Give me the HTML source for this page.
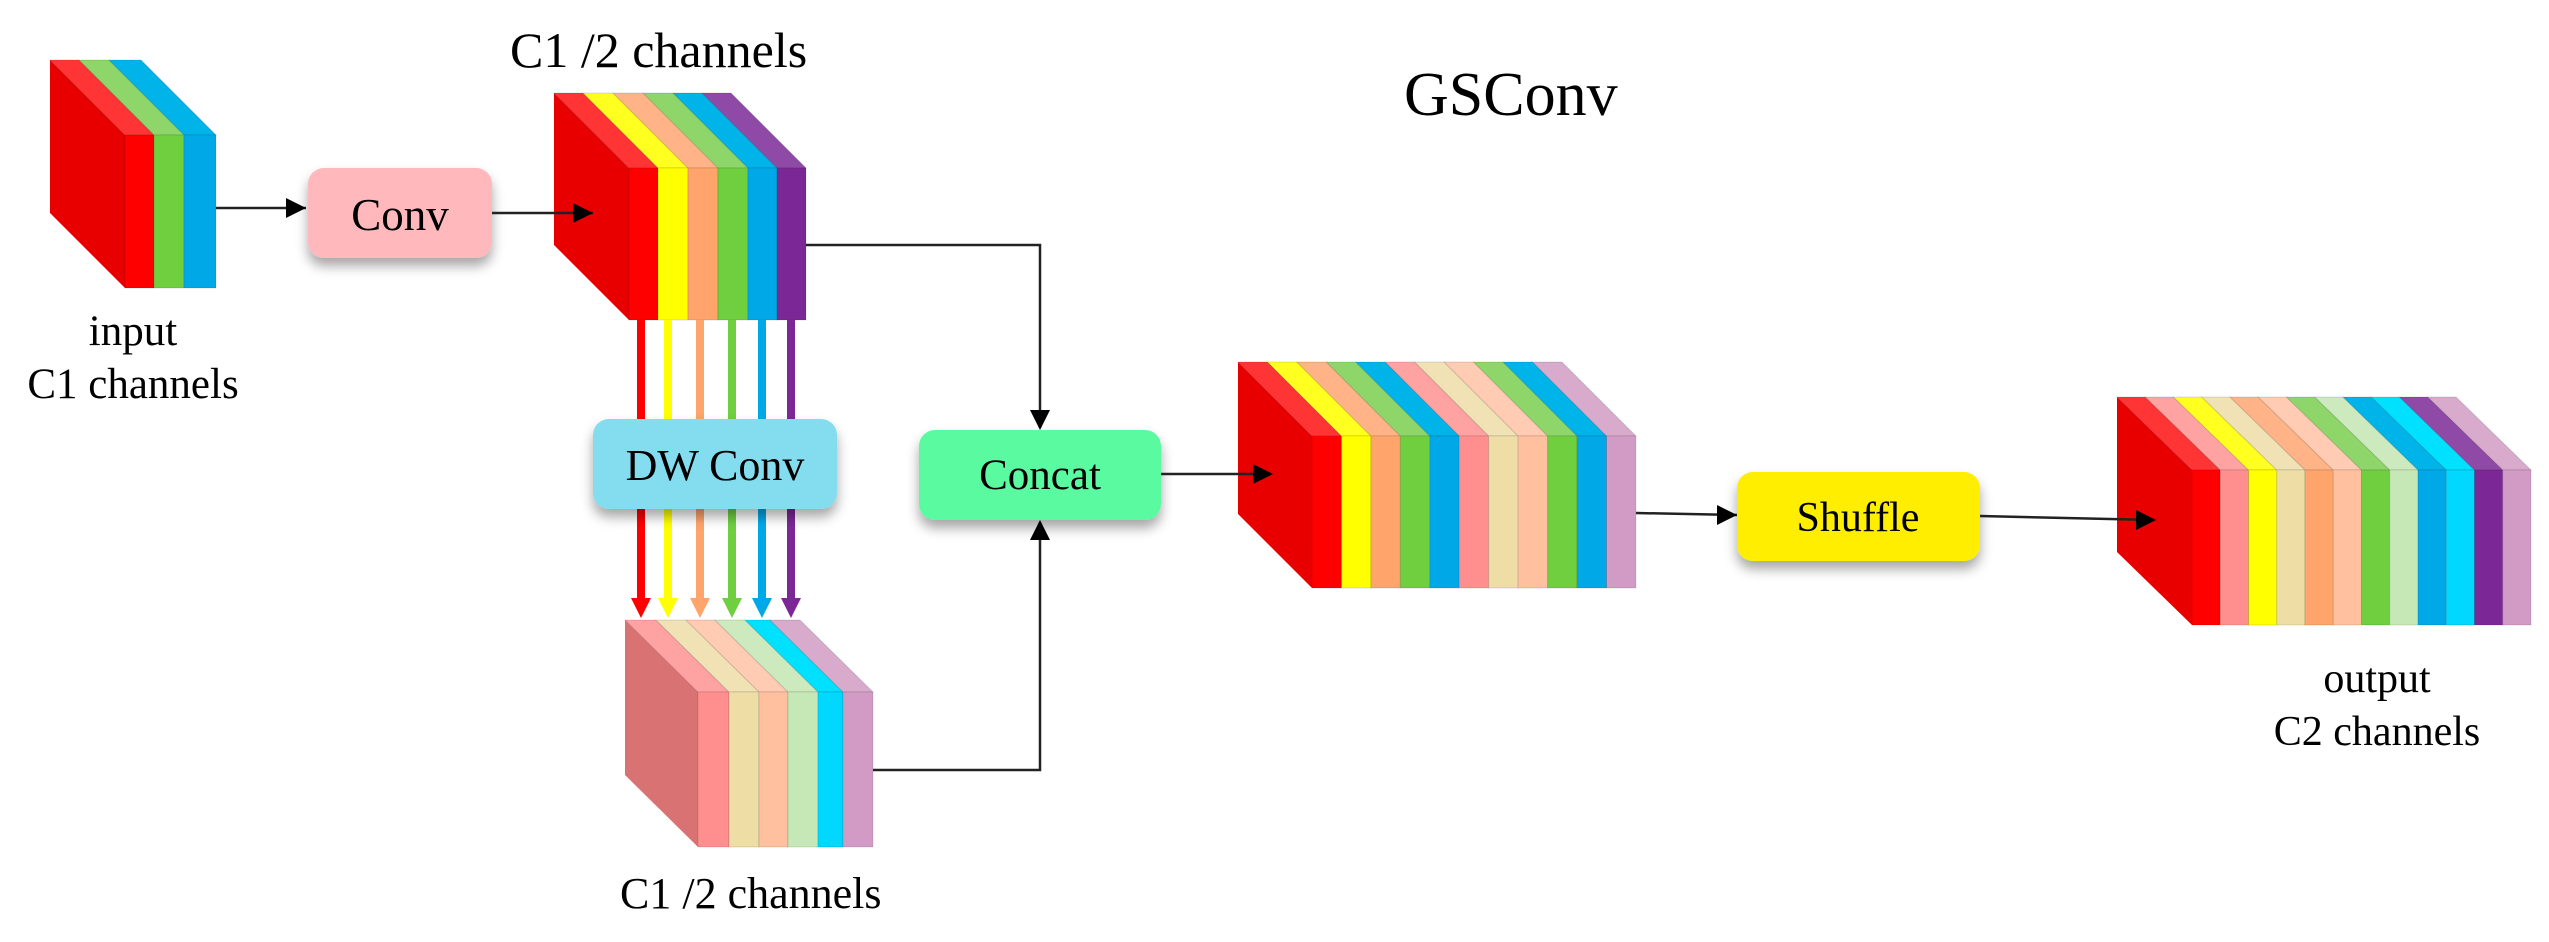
<!DOCTYPE html>
<html><head><meta charset="utf-8"><style>
html,body{margin:0;padding:0;background:#fff;}
svg{display:block;font-family:"Liberation Serif",serif;}
</style></head><body>
<svg id="s" width="2549" height="942" viewBox="0 0 2549 942" xmlns="http://www.w3.org/2000/svg">
<defs>
<filter id="sh" x="-20%" y="-20%" width="140%" height="160%"><feDropShadow dx="0" dy="8" stdDeviation="6" flood-color="#000" flood-opacity="0.35"/></filter>
<marker id="ah" markerWidth="10" markerHeight="10" refX="9" refY="5" orient="auto" markerUnits="userSpaceOnUse" viewBox="0 0 10 10"><path d="M0,0 L10,5 L0,10 z" fill="#000"/></marker>
</defs>
<g id="blocks"></g>
<g id="carrows"></g>
<!-- boxes -->
<rect x="308" y="168" width="184" height="90" rx="16" fill="#ffb8bc" filter="url(#sh)"/>
<rect x="593" y="419" width="244" height="90" rx="16" fill="#84dcef" filter="url(#sh)"/>
<rect x="919" y="430" width="242" height="90" rx="16" fill="#5afaa0" filter="url(#sh)"/>
<rect x="1737" y="472" width="243" height="89" rx="16" fill="#ffee00" filter="url(#sh)"/>
<g font-size="45" text-anchor="middle" fill="#000">
<text x="400" y="230">Conv</text>
<text x="715" y="480" font-size="44">DW Conv</text>
<text x="1040" y="489" font-size="43">Concat</text>
<text x="1858" y="531" font-size="42">Shuffle</text>
</g>
<!-- black connectors -->
<g stroke="#222" stroke-width="2.5" fill="none">
<line x1="216" y1="208" x2="306" y2="208"/>
<line x1="492" y1="213" x2="593" y2="213"/>
<polyline points="806,245 1040,245 1040,428"/>
<polyline points="873,770 1040,770 1040,522"/>
<line x1="1161" y1="474" x2="1271" y2="474"/>
<line x1="1636" y1="513" x2="1737" y2="515"/>
<line x1="1980" y1="516" x2="2154" y2="520"/>
</g>
<g fill="#000">
<path d="M306,208 l-20,-10 v20 z"/>
<path d="M593,213 l-20,-10 v20 z"/>
<path d="M1040,430 l-10,-20 h20 z"/>
<path d="M1040,520 l-10,20 h20 z"/>
<path d="M1273,474 l-20,-10 v20 z"/>
<path d="M1737,515 l-20,-10 v20 z"/>
<path d="M2156,520 l-20,-10 v20 z"/>
</g>
<!-- labels -->
<g fill="#000">
<text x="1404" y="115" font-size="62">GSConv</text>
<text x="510" y="67" font-size="50">C1 /2 channels</text>
<text x="133" y="345" font-size="43" text-anchor="middle">input</text>
<text x="133" y="398" font-size="43" text-anchor="middle">C1 channels</text>
<text x="620" y="908" font-size="44">C1 /2 channels</text>
<text x="2377" y="692" font-size="42" text-anchor="middle">output</text>
<text x="2377" y="745" font-size="42" text-anchor="middle">C2 channels</text>
</g>
</svg>
<script>
(function(){
var NS="http://www.w3.org/2000/svg";
var g=document.getElementById("blocks");
function el(t,a,p){var e=document.createElementNS(NS,t);for(var k in a)e.setAttribute(k,a[k]);(p||g).appendChild(e);return e;}
var C={
 red:["#ff0000","#ff3535"], yel:["#ffff00","#ffff20"], ora:["#ffa46a","#ffb386"],
 grn:["#6fcf3f","#8fd66a"], blu:["#00a8e8","#00b4ea"], pur:["#7b2896","#8e4aa6"],
 pnk:["#ff8f8f","#ffa2a2"], bei:["#eedda5","#f1e2b5"], pea:["#ffc0a0","#ffcbb2"],
 lgr:["#c6e8b6","#cdeabf"], cya:["#00d8ff","#00e0ff"], mau:["#d29bc5","#d8aacc"]
};
function block(xs,cols,dx,by,ft,fb,side){
 var x0=xs[0];
 el("polygon",{points:(x0-dx)+","+by+" "+x0+","+ft+" "+x0+","+fb+" "+(x0-dx)+","+(fb-(ft-by)),fill:side});
 for(var i=0;i<cols.length;i++){
  var a=xs[i],b=xs[i+1],c=C[cols[i]];
  el("polygon",{points:(a-dx)+","+by+" "+(b-dx)+","+by+" "+b+","+ft+" "+a+","+ft,fill:c[1],stroke:"rgba(0,0,0,0.12)","stroke-width":"1"});
  el("rect",{x:a,y:ft,width:b-a,height:fb-ft,fill:c[0],stroke:"rgba(0,0,0,0.12)","stroke-width":"1"});
 }
}
block([125,154,184,216],["red","grn","blu"],75,60,135,288,"#e80000");
block([629,658,688,718,748,777,806],["red","yel","ora","grn","blu","pur"],75,93,168,320,"#e80000");
block([698,729,759,788,818,843,873],["pnk","bei","pea","lgr","cya","mau"],73,620,692,847,"#d97272");
var xs=[];for(var i=0;i<=11;i++)xs.push(1312+i*29.45);
block(xs,["red","yel","ora","grn","blu","pnk","bei","pea","grn","blu","mau"],74,362,436,588,"#e80000");
xs=[];for(i=0;i<=12;i++)xs.push(2192+i*28.25);
block(xs,["red","pnk","yel","bei","ora","pea","grn","lgr","blu","cya","pur","mau"],75,397,470,625,"#e80000");
var ca=document.getElementById("carrows");
var ax=[641,668,700,732,762,791],ac=["#ff0000","#ffff00","#ffa46a","#6fcf3f","#00a8e8","#7b2896"];
for(i=0;i<6;i++){
 el("rect",{x:ax[i]-4,y:320,width:8,height:100,fill:ac[i]},ca);
 el("rect",{x:ax[i]-4,y:508,width:8,height:92,fill:ac[i]},ca);
 el("path",{d:"M"+(ax[i]-10)+",598 h20 l-10,20 z",fill:ac[i]},ca);
}
// ensure boxes draw over colored lines: move carrows before boxes (already)
})();
</script>
</body></html>
